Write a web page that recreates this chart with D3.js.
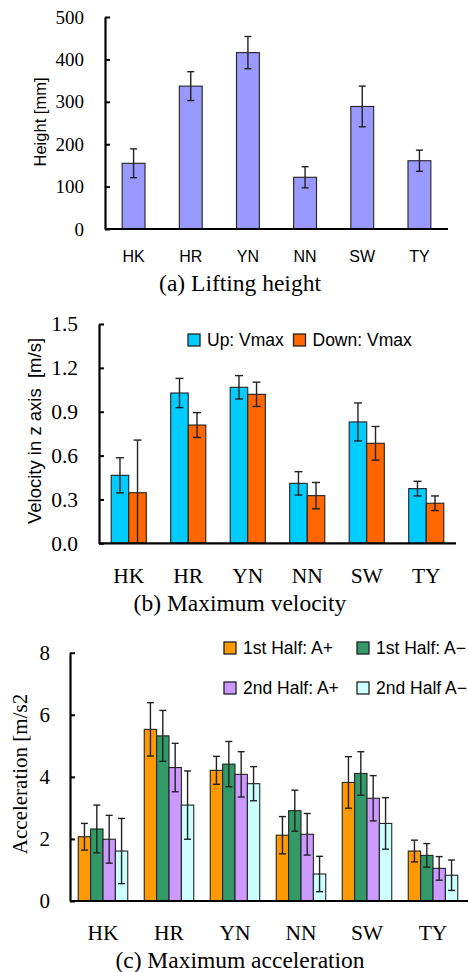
<!DOCTYPE html>
<html>
<head>
<meta charset="utf-8">
<script src="https://cdn.jsdelivr.net/npm/d3@7"></script>
<style>
  body { margin: 0; background: #fff; }
  svg { display: block; }
</style>
</head>
<body>
<svg id="vis" width="468" height="972"></svg>
<script>
const names = ["HK", "HR", "YN", "NN", "SW", "TY"];

// (a) lifting height [mm]
const heightMean = [155, 337, 416, 122, 289, 161];
const heightErr = [34, 34, 38, 25, 48, 25];

// (b) max velocity [m/s]
const velSeries = ["Up: Vmax", "Down: Vmax"];
const velUp = [0.465, 1.028, 1.067, 0.41, 0.83, 0.374];
const velUpErr = [0.12, 0.10, 0.08, 0.08, 0.13, 0.05];
const velDown = [0.346, 0.809, 1.019, 0.326, 0.684, 0.274];
const velDownErr = [0.36, 0.085, 0.083, 0.09, 0.115, 0.05];

// (c) max acceleration [m/s2]
const accSeries = ["1st Half: A+", "1st Half: A\u2212", "2nd Half: A+", "2nd Half A\u2212"];
const acc1P = [2.07, 5.53, 4.21, 2.12, 3.82, 1.61];
const acc1PErr = [0.43, 0.86, 0.45, 0.6, 0.83, 0.35];
const acc1M = [2.32, 5.32, 4.41, 2.91, 4.11, 1.47];
const acc1MErr = [0.77, 0.82, 0.73, 0.66, 0.7, 0.38];
const acc2P = [1.99, 4.30, 4.08, 2.15, 3.31, 1.05];
const acc2PErr = [0.77, 0.78, 0.73, 0.67, 0.73, 0.38];
const acc2M = [1.61, 3.09, 3.78, 0.87, 2.50, 0.83];
const acc2MErr = [1.05, 1.1, 0.55, 0.57, 0.83, 0.49];

const SANS = "'Liberation Sans', Arial, sans-serif";
const SERIF = "'Liberation Serif', 'Times New Roman', serif";

const svg = d3.select("#vis");

const drawPanel = cfg => {
    const g = svg.append("g");
    const x = d3.scaleBand().domain(names).range([cfg.left, cfg.right]);
    const y = d3.scaleLinear().domain(cfg.yDomain).range([cfg.bottom, cfg.top]);
    const inner = d3.scaleBand().domain(d3.range(cfg.series.length))
        .range([0, x.bandwidth() * cfg.groupFrac]);
    const off = (x.bandwidth() - inner.range()[1]) / 2;

    // bars
    cfg.series.forEach((s, si) => {
        const rows = names.map((n, i) => ({n: n, v: s.values[i], e: s.errs[i]}));
        g.append("g").selectAll("rect").data(rows).join("rect")
            .attr("x", d => x(d.n) + off + inner(si))
            .attr("y", d => y(d.v))
            .attr("width", inner.bandwidth())
            .attr("height", d => y(0) - y(d.v))
            .attr("fill", s.color)
            .attr("stroke", "#222")
            .attr("stroke-width", 1.1);
        const eb = g.append("g").attr("stroke", "#222").attr("stroke-width", 1.4);
        rows.forEach(d => {
            const cx = x(d.n) + off + inner(si) + inner.bandwidth() / 2;
            const lo = Math.max(0, d.v - d.e);
            const hi = d.v + d.e;
            eb.append("line").attr("x1", cx).attr("x2", cx).attr("y1", y(lo)).attr("y2", y(hi));
            eb.append("line").attr("x1", cx - cfg.cap).attr("x2", cx + cfg.cap).attr("y1", y(hi)).attr("y2", y(hi));
            if (d.v - d.e > 0) {
                eb.append("line").attr("x1", cx - cfg.cap).attr("x2", cx + cfg.cap).attr("y1", y(lo)).attr("y2", y(lo));
            }
        });
    });

    // y axis, ticks pointing inwards
    const ya = g.append("g").attr("transform", `translate(${cfg.left},0)`)
        .call(d3.axisLeft(y).tickValues(cfg.ticks).tickFormat(cfg.fmt)
            .tickSizeInner(-5).tickSizeOuter(0).tickPadding(cfg.tickPad));
    ya.select(".domain").attr("stroke", "#000").attr("stroke-width", 2.2);
    ya.selectAll(".tick line").attr("stroke", "#000").attr("stroke-width", 2);
    ya.selectAll("text").attr("font-family", SERIF).attr("font-size", cfg.tickFont).attr("fill", "#000");
    ya.attr("font-family", null).attr("font-size", null);

    // x axis
    const xa = g.append("g").attr("transform", `translate(0,${cfg.bottom})`)
        .call(d3.axisBottom(x).tickSize(0).tickPadding(cfg.catPad));
    xa.select(".domain").attr("stroke", "#000").attr("stroke-width", 2.2)
        .attr("d", `M${cfg.left},0H${cfg.axisEnd || cfg.right}`);
    xa.selectAll("text").attr("font-family", cfg.catFamily).attr("font-size", cfg.catFont).attr("fill", "#000");
    xa.attr("font-family", null).attr("font-size", null);

    // y title
    g.append("text")
        .attr("transform", `translate(${cfg.titleX},${cfg.titleY}) rotate(-90)`)
        .attr("text-anchor", "middle")
        .attr("font-family", cfg.titleFamily)
        .attr("font-size", cfg.titleFont)
        .style("white-space", "pre")
        .text(cfg.title);

    // caption
    g.append("text")
        .attr("x", 240).attr("y", cfg.captionY)
        .attr("text-anchor", "middle")
        .attr("font-family", SERIF)
        .attr("font-size", 23.5)
        .text(cfg.caption);

    // legend
    if (cfg.legend) {
        cfg.legend.forEach((p, i) => {
            const s = cfg.series[i];
            g.append("rect").attr("x", p[0]).attr("y", p[1] - 6).attr("width", 12).attr("height", 12)
                .attr("fill", s.color).attr("stroke", "#222").attr("stroke-width", 1.3);
            g.append("text").attr("x", p[0] + 19).attr("y", p[1] + 6)
                .attr("font-family", SANS).attr("font-size", 17.5).text(s.name);
        });
    }
};

drawPanel({
    left: 105, right: 448, top: 17, bottom: 229,
    yDomain: [0, 500], ticks: [0, 100, 200, 300, 400, 500], fmt: d3.format("d"),
    tickPad: 21, tickFont: 19, groupFrac: 0.4, cap: 3.5,
    catPad: 22, catFont: 16, catFamily: SANS,
    series: [{name: "Height", values: heightMean, errs: heightErr, color: "#9999FF"}],
    title: "Height [mm]", titleX: 46, titleY: 122, titleFont: 16.5, titleFamily: SANS,
    caption: "(a) Lifting height", captionY: 291
});

drawPanel({
    left: 99, right: 456, top: 324, bottom: 543.3,
    yDomain: [0, 1.5], ticks: [0, 0.3, 0.6, 0.9, 1.2, 1.5], fmt: d3.format(".1f"),
    tickPad: 21, tickFont: 21.5, groupFrac: 0.59, cap: 4,
    catPad: 24, catFont: 21.5, catFamily: SERIF,
    series: [
        {name: velSeries[0], values: velUp, errs: velUpErr, color: "#00CCFF"},
        {name: velSeries[1], values: velDown, errs: velDownErr, color: "#FF6600"}
    ],
    title: "Velocity in z axis  [m/s]", titleX: 41, titleY: 431, titleFont: 18.5, titleFamily: SANS,
    caption: "(b) Maximum velocity", captionY: 611,
    legend: [[188, 340], [293.5, 340]]
});

drawPanel({
    left: 70, right: 466, axisEnd: 468, top: 652.7, bottom: 901,
    yDomain: [0, 8], ticks: [0, 2, 4, 6, 8], fmt: d3.format("d"),
    tickPad: 20, tickFont: 21, groupFrac: 0.75, cap: 3.5,
    catPad: 24, catFont: 21.5, catFamily: SERIF,
    series: [
        {name: accSeries[0], values: acc1P, errs: acc1PErr, color: "#FF9900"},
        {name: accSeries[1], values: acc1M, errs: acc1MErr, color: "#339966"},
        {name: accSeries[2], values: acc2P, errs: acc2PErr, color: "#CC99FF"},
        {name: accSeries[3], values: acc2M, errs: acc2MErr, color: "#CCFFFF"}
    ],
    title: "Acceleration [m/s2", titleX: 27, titleY: 774, titleFont: 21, titleFamily: SERIF,
    caption: "(c) Maximum acceleration", captionY: 968,
    legend: [[224, 648], [357, 648], [224, 688], [357, 688]]
});
</script>
</body>
</html>
